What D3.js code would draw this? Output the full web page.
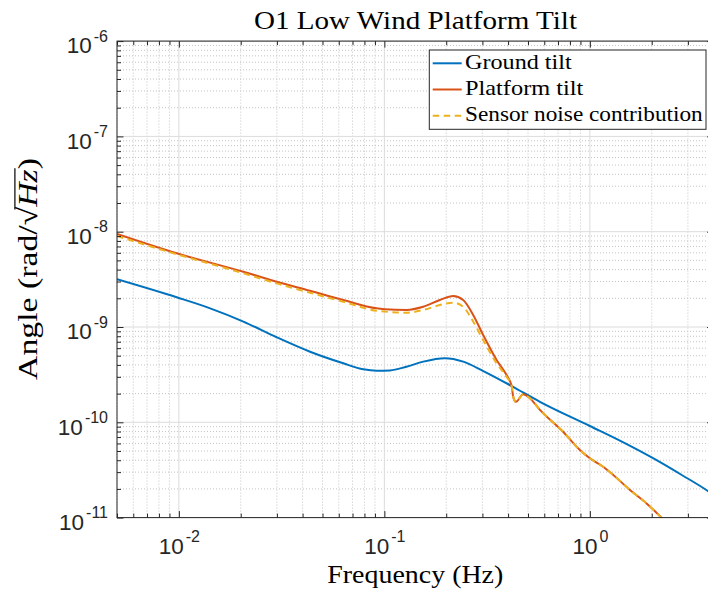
<!DOCTYPE html>
<html>
<head>
<meta charset="utf-8">
<script src="https://cdn.jsdelivr.net/npm/d3@7"></script>
<style>
  body { margin: 0; background: #fff; }
  svg { display: block; }
</style>
</head>
<body>
<svg id="chart" width="708" height="594"></svg>
<script>
// ---- data: amplitude spectral densities (rad/sqrt(Hz)) vs frequency (Hz) ----
const freqGround = [0.005, 0.00976, 0.0142, 0.0206, 0.0299, 0.0435, 0.0631, 0.079, 0.0917, 0.1065,
                    0.128, 0.1547, 0.197, 0.242, 0.303, 0.4165, 0.5716, 1.0, 1.4, 2.03, 2.8, 3.75, 4.0];
const groundTilt = [3.17e-9, 2.05e-9, 1.57e-9, 1.14e-9, 7.8e-10, 5.5e-10, 4.16e-10, 3.6e-10, 3.48e-10, 3.5e-10,
                    3.83e-10, 4.33e-10, 4.70e-10, 4.33e-10, 3.45e-10, 2.40e-10, 1.64e-10, 9.14e-11, 6.42e-11, 4.2e-11, 2.8e-11, 1.9e-11, 1.72e-11];

const freqPlatform = [0.005, 0.00976, 0.0206, 0.0299, 0.0435, 0.0631, 0.0917, 0.1006, 0.1283, 0.1545,
                      0.1862, 0.2162, 0.2417, 0.2705, 0.3025, 0.3516, 0.3931, 0.4165, 0.4234, 0.437,
                      0.4736, 0.5106, 0.5716, 0.741, 0.894, 1.0, 1.16, 1.30, 1.567, 1.888, 2.23, 2.4];
const platformTilt = [9.46e-9, 5.93e-9, 3.80e-9, 2.99e-9, 2.40e-9, 1.92e-9, 1.57e-9, 1.54e-9, 1.51e-9, 1.63e-9,
                      1.92e-9, 2.11e-9, 1.92e-9, 1.34e-9, 8.24e-10, 4.51e-10, 3.13e-10, 2.40e-10, 1.86e-10, 1.64e-10,
                      1.97e-10, 1.79e-10, 1.35e-10, 7.96e-11, 5.12e-11, 4.19e-11, 3.42e-11, 2.80e-11, 1.95e-11, 1.41e-11, 1.0e-11, 8.6e-12];

const freqSensor = [0.005, 0.00976, 0.0206, 0.0299, 0.0435, 0.0631, 0.0917, 0.1006, 0.1283, 0.1545,
                    0.1862, 0.2162, 0.2417, 0.2705, 0.3025, 0.3516, 0.3931, 0.4165, 0.4234, 0.437,
                    0.4736, 0.5106, 0.5716, 0.741, 0.894, 1.0, 1.16, 1.30, 1.567, 1.888, 2.23, 2.4];
const sensorNoise = [9.0e-9, 5.8e-9, 3.66e-9, 2.87e-9, 2.29e-9, 1.84e-9, 1.48e-9, 1.45e-9, 1.41e-9, 1.51e-9,
                     1.70e-9, 1.80e-9, 1.63e-9, 1.14e-9, 7.3e-10, 4.16e-10, 3.0e-10, 2.40e-10, 1.86e-10, 1.64e-10,
                     1.97e-10, 1.79e-10, 1.35e-10, 7.96e-11, 5.12e-11, 4.19e-11, 3.42e-11, 2.80e-11, 1.95e-11, 1.41e-11, 1.0e-11, 8.6e-12];

const seriesNames = ["Ground tilt", "Platform tilt", "Sensor noise contribution"];

const xTickValues = [1e-2, 1e-1, 1e0];
const xTickExps   = ["-2", "-1", "0"];
const yTickValues = [1e-11, 1e-10, 1e-9, 1e-8, 1e-7, 1e-6];
const yTickExps   = ["-11", "-10", "-9", "-8", "-7", "-6"];

// ---- layout ----
const svg = d3.select("#chart");
const x = d3.scaleLog().domain([0.005, 4]).range([117, 117 + 205.5 * Math.log10(4 / 0.005)]);
const y = d3.scaleLog().domain([1e-11, 1e-6]).range([517.6, 41.1]);
const [x0, x1] = x.range();
const [y0, y1] = y.range();

const axisColor = "#262626";
const sansFont = "'Liberation Sans', Arial, Helvetica, sans-serif";
const serifFont = "'Liberation Serif', 'Times New Roman', serif";
const colors = ["#0072BD", "#D95319", "#EDB120"];

const isMajor = (vals) => (v) => vals.some(t => Math.abs(t - v) / t < 1e-6);
const minorX = x.ticks().filter(v => !isMajor(xTickValues)(v));
const minorY = y.ticks().filter(v => !isMajor(yTickValues)(v));

// ---- grid ----
const grid = svg.append("g");
grid.selectAll("line.mgx").data(minorX).join("line")
  .attr("x1", d => x(d)).attr("x2", d => x(d)).attr("y1", y0).attr("y2", y1)
  .attr("stroke", "#c4c4c4").attr("stroke-width", 1).attr("stroke-dasharray", "1,2");
grid.selectAll("line.mgy").data(minorY).join("line")
  .attr("y1", d => y(d)).attr("y2", d => y(d)).attr("x1", x0).attr("x2", x1)
  .attr("stroke", "#c4c4c4").attr("stroke-width", 1).attr("stroke-dasharray", "1,2");
grid.selectAll("line.gx").data(xTickValues).join("line")
  .attr("x1", d => x(d)).attr("x2", d => x(d)).attr("y1", y0).attr("y2", y1)
  .attr("stroke", "#dcdcdc").attr("stroke-width", 1);
grid.selectAll("line.gy").data(yTickValues).join("line")
  .attr("y1", d => y(d)).attr("y2", d => y(d)).attr("x1", x0).attr("x2", x1)
  .attr("stroke", "#dcdcdc").attr("stroke-width", 1);

// ---- curves ----
svg.append("clipPath").attr("id", "plotclip")
  .append("rect").attr("x", x0).attr("y", y1).attr("width", x1 - x0).attr("height", y0 - y1);

const line = d3.line().x(d => x(d[0])).y(d => y(d[1])).curve(d3.curveMonotoneX);
const curves = svg.append("g").attr("clip-path", "url(#plotclip)");
const seriesData = [
  d3.zip(freqGround, groundTilt),
  d3.zip(freqPlatform, platformTilt),
  d3.zip(freqSensor, sensorNoise)
];
seriesData.forEach((pts, i) => {
  curves.append("path").datum(pts).attr("d", line)
    .attr("fill", "none").attr("stroke", colors[i]).attr("stroke-width", 2)
    .attr("stroke-dasharray", i === 2 ? "6.5,4.5" : null);
});

// ---- axes (ticks pointing inward on all four sides) ----
function styleAxis(g) {
  g.select(".domain").remove();
  g.selectAll(".tick line").attr("stroke", axisColor).attr("stroke-width", 1);
}
const majLen = 6.5, minLen = 4;

const gxB = svg.append("g").attr("transform", `translate(0,${y0})`)
  .call(d3.axisBottom(x).tickValues(xTickValues).tickSizeInner(-majLen).tickSizeOuter(0).tickFormat(() => ""));
svg.append("g").attr("transform", `translate(0,${y0})`)
  .call(d3.axisBottom(x).tickValues(minorX).tickSizeInner(-minLen).tickSizeOuter(0).tickFormat(() => "")).call(styleAxis);
svg.append("g").attr("transform", `translate(0,${y1})`)
  .call(d3.axisTop(x).tickValues(xTickValues).tickSizeInner(-majLen).tickSizeOuter(0).tickFormat(() => "")).call(styleAxis);
svg.append("g").attr("transform", `translate(0,${y1})`)
  .call(d3.axisTop(x).tickValues(minorX).tickSizeInner(-minLen).tickSizeOuter(0).tickFormat(() => "")).call(styleAxis);

const gyL = svg.append("g").attr("transform", `translate(${x0},0)`)
  .call(d3.axisLeft(y).tickValues(yTickValues).tickSizeInner(-majLen).tickSizeOuter(0).tickFormat(() => ""));
svg.append("g").attr("transform", `translate(${x0},0)`)
  .call(d3.axisLeft(y).tickValues(minorY).tickSizeInner(-minLen).tickSizeOuter(0).tickFormat(() => "")).call(styleAxis);
svg.append("g").attr("transform", `translate(${x1},0)`)
  .call(d3.axisRight(y).tickValues(yTickValues).tickSizeInner(-majLen).tickSizeOuter(0).tickFormat(() => "")).call(styleAxis);
svg.append("g").attr("transform", `translate(${x1},0)`)
  .call(d3.axisRight(y).tickValues(minorY).tickSizeInner(-minLen).tickSizeOuter(0).tickFormat(() => "")).call(styleAxis);

styleAxis(gxB);
styleAxis(gyL);

// power-of-ten tick labels: "10" with a raised exponent
gxB.selectAll(".tick text").each(function (d, i) {
  const t = d3.select(this).text(null)
    .attr("y", 36.7).attr("dy", null)
    .attr("text-anchor", "middle")
    .attr("fill", axisColor).attr("font-family", sansFont).attr("font-size", 22.5);
  t.append("tspan").text("10");
  t.append("tspan").attr("dx", 2).attr("dy", -12.6).attr("font-size", 16).text(xTickExps[i]);
});
gyL.selectAll(".tick text").each(function (d, i) {
  const t = d3.select(this).text(null)
    .attr("x", -9).attr("y", 11.8).attr("dy", null)
    .attr("text-anchor", "end")
    .attr("fill", axisColor).attr("font-family", sansFont).attr("font-size", 22.5);
  t.append("tspan").text("10");
  t.append("tspan").attr("dx", 2).attr("dy", -11.8).attr("font-size", 16).text(yTickExps[i]);
});

// axes box
svg.append("rect").attr("x", x0).attr("y", y1).attr("width", x1 - x0).attr("height", y0 - y1)
  .attr("fill", "none").attr("stroke", axisColor).attr("stroke-width", 1);

// ---- title and axis labels ----
svg.append("text").attr("x", 415.5).attr("y", 28.5).attr("text-anchor", "middle")
  .attr("font-family", serifFont).attr("font-size", 25).attr("fill", "#000")
  .attr("textLength", 323).attr("lengthAdjust", "spacingAndGlyphs")
  .text("O1 Low Wind Platform Tilt");

svg.append("text").attr("x", 415.3).attr("y", 583).attr("text-anchor", "middle")
  .attr("font-family", serifFont).attr("font-size", 25).attr("fill", "#000")
  .attr("textLength", 176).attr("lengthAdjust", "spacingAndGlyphs")
  .text("Frequency (Hz)");

const yl = svg.append("g").attr("transform", "translate(37,380) rotate(-90)");
const ylText = yl.append("text").attr("x", 0).attr("y", 0)
  .attr("font-family", serifFont).attr("font-size", 28).attr("fill", "#000")
  .attr("textLength", 222).attr("lengthAdjust", "spacingAndGlyphs");
ylText.append("tspan").text("Angle (rad/");
ylText.append("tspan").text("\u221A");
ylText.append("tspan").attr("font-style", "italic").text("Hz");
ylText.append("tspan").text(")");
// overline of the square root over "Hz"
{
  const node = ylText.node();
  const iRad = "Angle (rad/".length;
  const iZ = iRad + 2;
  const start = node.getStartPositionOfChar(iRad).x + node.getSubStringLength(iRad, 1) * 0.85;
  const end = node.getEndPositionOfChar(iZ).x + 1;
  yl.append("line").attr("x1", start).attr("x2", end).attr("y1", -22.1).attr("y2", -22.1)
    .attr("stroke", "#000").attr("stroke-width", 1.2);
}

// ---- legend ----
const legend = svg.append("g");
legend.append("rect").attr("x", 429.3).attr("y", 50).attr("width", 276.7).attr("height", 79.3)
  .attr("fill", "#fff").attr("stroke", axisColor).attr("stroke-width", 1);
const legendWidths = [106.7, 118.3, 237.7];
seriesNames.forEach((name, i) => {
  const ly = 63.3 + i * 26.2;
  legend.append("line").attr("x1", 432.7).attr("x2", 461.7).attr("y1", ly).attr("y2", ly)
    .attr("stroke", colors[i]).attr("stroke-width", 2)
    .attr("stroke-dasharray", i === 2 ? "6.5,4.5" : null);
  legend.append("text").attr("x", 465).attr("y", ly + 5.2)
    .attr("font-family", serifFont).attr("font-size", 21.5).attr("fill", "#000")
    .attr("textLength", legendWidths[i]).attr("lengthAdjust", "spacingAndGlyphs")
    .text(name);
});
</script>
</body>
</html>
